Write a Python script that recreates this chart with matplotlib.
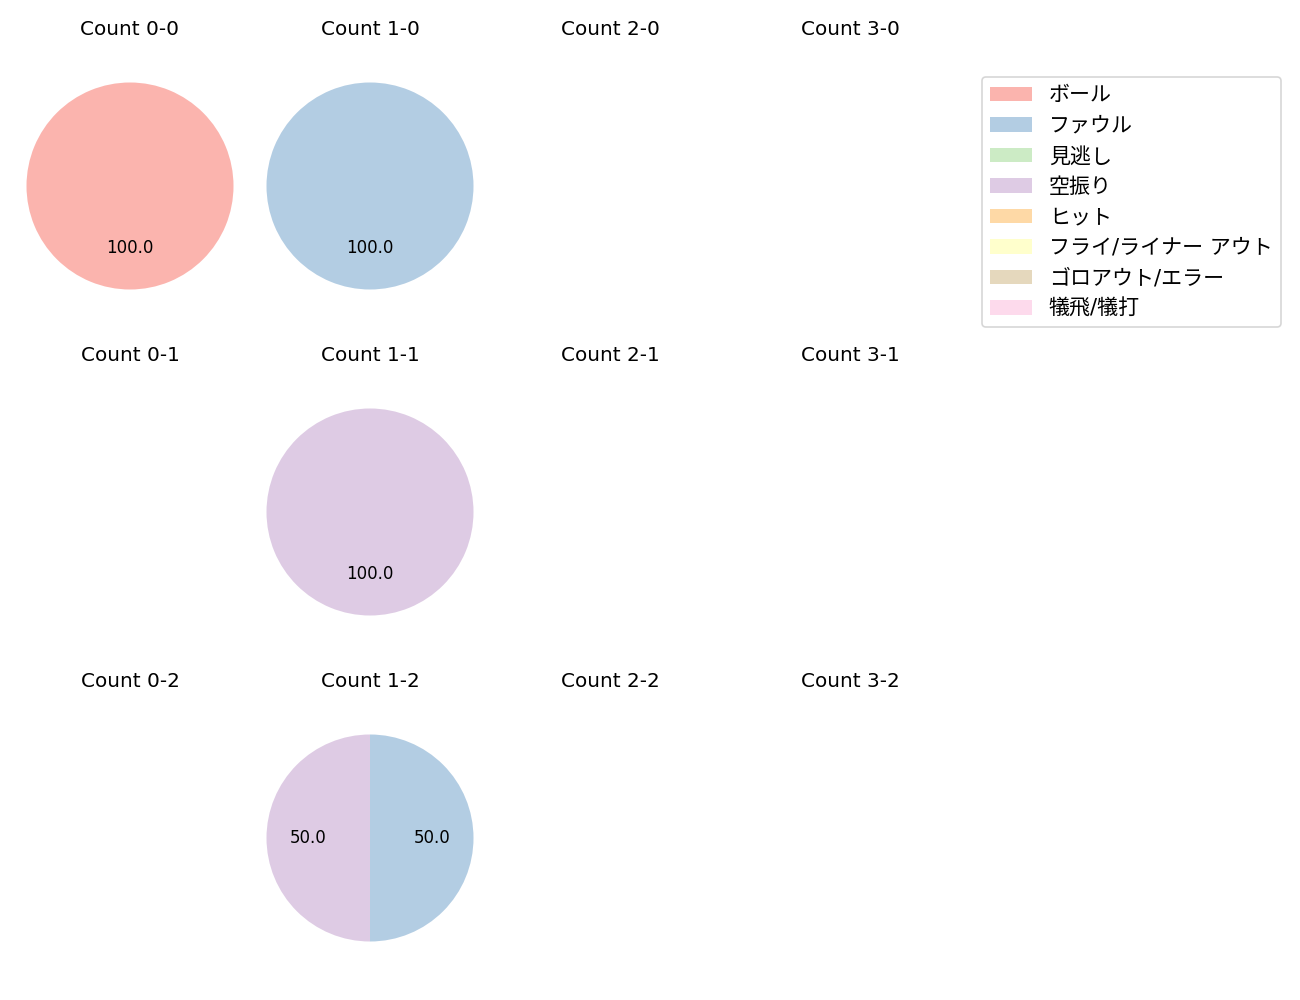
import matplotlib
matplotlib.use("Agg")
import matplotlib.pyplot as plt
from matplotlib.patches import Patch

plt.rcParams['font.family'] = ['DejaVu Sans', 'Noto Sans CJK JP']

categories = ['ボール', 'ファウル', '見逃し', '空振り', 'ヒット',
              'フライ/ライナー アウト', 'ゴロアウト/エラー', '犠飛/犠打']
colors = ['#fbb4ae', '#b3cde3', '#ccebc5', '#decbe4', '#fed9a6',
          '#ffffcc', '#e5d8bd', '#fddaec']

balls = [0, 1, 2, 3]
strikes = [0, 1, 2]

# counts per category for each ball-strike count
count_0_0 = [1, 0, 0, 0, 0, 0, 0, 0]
count_1_0 = [0, 1, 0, 0, 0, 0, 0, 0]
count_2_0 = [0, 0, 0, 0, 0, 0, 0, 0]
count_3_0 = [0, 0, 0, 0, 0, 0, 0, 0]
count_0_1 = [0, 0, 0, 0, 0, 0, 0, 0]
count_1_1 = [0, 0, 0, 1, 0, 0, 0, 0]
count_2_1 = [0, 0, 0, 0, 0, 0, 0, 0]
count_3_1 = [0, 0, 0, 0, 0, 0, 0, 0]
count_0_2 = [0, 0, 0, 0, 0, 0, 0, 0]
count_1_2 = [0, 1, 0, 1, 0, 0, 0, 0]
count_2_2 = [0, 0, 0, 0, 0, 0, 0, 0]
count_3_2 = [0, 0, 0, 0, 0, 0, 0, 0]

data = {
    (0, 0): count_0_0, (1, 0): count_1_0, (2, 0): count_2_0, (3, 0): count_3_0,
    (0, 1): count_0_1, (1, 1): count_1_1, (2, 1): count_2_1, (3, 1): count_3_1,
    (0, 2): count_0_2, (1, 2): count_1_2, (2, 2): count_2_2, (3, 2): count_3_2,
}

W, H = 1300, 1000
DPI = 120
fig = plt.figure(figsize=(W / DPI, H / DPI), dpi=DPI)

r_px = 103.5
ax_w_px = 240
ax_h_px = 284
top_px = 44
row_step = 326
gs = fig.add_gridspec(3, 4, left=10 / W, right=970 / W, wspace=0.0,
                      top=1 - top_px / H,
                      bottom=1 - (top_px + 2 * row_step + ax_h_px) / H,
                      hspace=(row_step - ax_h_px) / ax_h_px)

for s in strikes:
    for b in balls:
        ax = fig.add_subplot(gs[s, b])
        vals = data[(b, s)]
        ax.set_title(f'Count {b}-{s}', fontsize=12, pad=5.4)
        sel = [(v, c) for v, c in zip(vals, colors) if v > 0]
        if sel:
            ax.pie([v for v, _ in sel], colors=[c for _, c in sel],
                   autopct='%.1f', startangle=90, counterclock=False,
                   textprops={'fontsize': 10})
        ax.set_aspect('auto')
        xl = ax_w_px / 2 / r_px
        yl = ax_h_px / 2 / r_px
        ax.set_xlim(-xl, xl)
        ax.set_ylim(-yl, yl)
        ax.axis('off')

leg_fs = 12.6
pad_px = 0.5 * leg_fs * DPI / 72
handles = [Patch(facecolor=c, label=l) for c, l in zip(colors, categories)]
fig.legend(handles=handles, loc='upper right',
           bbox_to_anchor=((1281 + pad_px) / W, 1 - (77 - pad_px) / H),
           fontsize=leg_fs)

fig.savefig('out.png', dpi=DPI)
